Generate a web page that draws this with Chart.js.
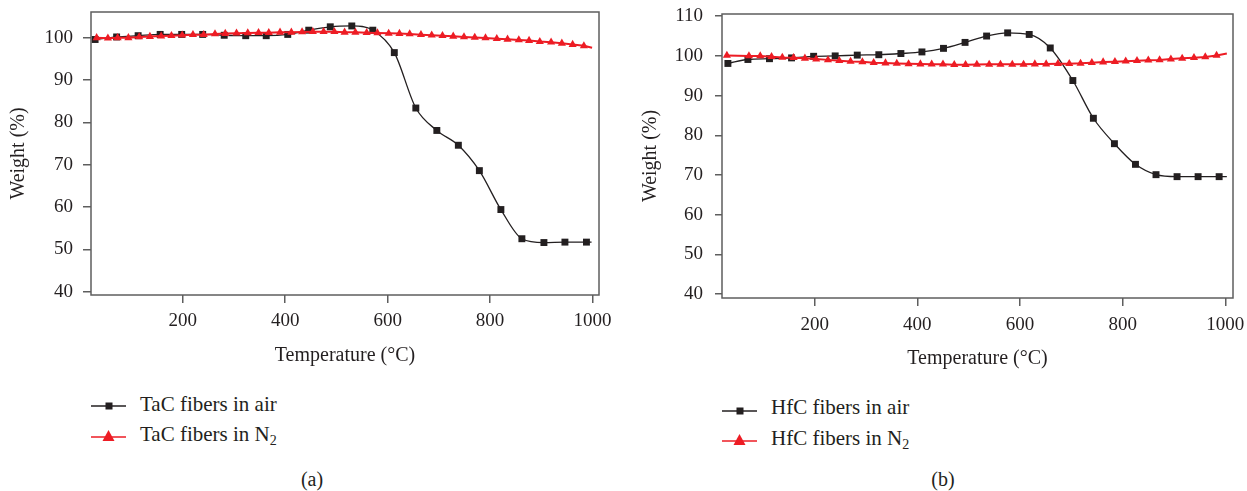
<!DOCTYPE html>
<html>
<head>
<meta charset="utf-8">
<script src="https://cdn.jsdelivr.net/npm/chart.js@4.4.1/dist/chart.umd.min.js"></script>
<style>
  html, body { margin: 0; padding: 0; background: #fff; }
  body { width: 1247px; height: 491px; position: relative; overflow: hidden;
         font-family: "Liberation Serif", "DejaVu Serif", serif; color: #231f20; }
  canvas { position: absolute; top: 0; }
  #cTaC { left: 0; }
  #cHfC { left: 620px; }
  .lg { position: absolute; font-size: 21px; line-height: 21px; white-space: nowrap; }
  .lg sub { font-size: 14px; vertical-align: -4px; line-height: 0; }
  .ic { position: absolute; }
  .cap { position: absolute; font-size: 20px; line-height: 20px; transform: translateX(-50%); }
</style>
</head>
<body>
<canvas id="cTaC" width="615" height="372"></canvas>
<canvas id="cHfC" width="627" height="372"></canvas>

<!-- legend (a) -->
<svg class="ic" style="left:91px;top:398px" width="35" height="16">
  <line x1="0" y1="8" x2="35" y2="8" stroke="#231f20" stroke-width="1.5"/>
  <rect x="14.5" y="4.5" width="7" height="7" fill="#231f20"/>
</svg>
<div class="lg" style="left:140px;top:394px">TaC fibers in air</div>
<svg class="ic" style="left:91px;top:427px" width="35" height="16">
  <line x1="0" y1="10" x2="35" y2="10" stroke="#ed1c24" stroke-width="1.5"/>
  <polygon points="17.5,3 23.5,14 11.5,14" fill="#ed1c24"/>
</svg>
<div class="lg" style="left:140px;top:424px">TaC fibers in N<sub>2</sub></div>
<div class="cap" style="left:312px;top:469px">(a)</div>

<!-- legend (b) -->
<svg class="ic" style="left:722px;top:403px" width="35" height="16">
  <line x1="0" y1="8" x2="35" y2="8" stroke="#231f20" stroke-width="1.5"/>
  <rect x="14.5" y="4.5" width="7" height="7" fill="#231f20"/>
</svg>
<div class="lg" style="left:771px;top:397px">HfC fibers in air</div>
<svg class="ic" style="left:722px;top:431px" width="35" height="16">
  <line x1="0" y1="10" x2="35" y2="10" stroke="#ed1c24" stroke-width="1.5"/>
  <polygon points="17.5,3 23.5,14 11.5,14" fill="#ed1c24"/>
</svg>
<div class="lg" style="left:771px;top:428px">HfC fibers in N<sub>2</sub></div>
<div class="cap" style="left:943px;top:469px">(b)</div>

<script>
// Thermogravimetric curves, temperature (°C) vs weight (%).
// The last entry of every series is where the recorded trace ends (no marker drawn there).

// (a) TaC fibers
const tacAirT = [29, 71, 113, 156, 198, 239, 281, 323, 363, 405, 446, 488, 530, 571, 613, 655, 696, 738, 779, 821, 862, 905, 946, 988, 998];
const tacAirW = [99.6, 100.2, 100.5, 100.8, 100.8, 100.8, 100.6, 100.5, 100.5, 100.8, 101.8, 102.6, 102.8, 101.8, 96.5, 83.4, 78.1, 74.6, 68.6, 59.4, 52.5, 51.6, 51.7, 51.7, 51.7];

const tacN2T = [32, 54, 73, 94, 115, 136, 158, 178, 199, 220, 241, 263, 283, 305, 327, 348, 368, 390, 412, 433, 454, 475, 496,
                516, 537, 559, 580, 602, 623, 643, 665, 686, 707, 728, 749, 770, 791, 813, 834, 856, 876, 897, 919, 940, 961, 983, 999];
const tacN2W = [100.0, 99.9, 100.0, 100.0, 100.2, 100.3, 100.4, 100.5, 100.6, 100.75, 100.75, 100.9, 101.0, 101.1, 101.15, 101.2, 101.2, 101.3, 101.3, 101.4, 101.45, 101.45, 101.45,
                101.3, 101.3, 101.2, 101.15, 101.05, 101.0, 100.9, 100.75, 100.6, 100.5, 100.35, 100.2, 100.1, 99.95, 99.8, 99.65, 99.5, 99.35, 99.1, 98.95, 98.7, 98.4, 98.1, 97.65];

// (b) HfC fibers
const hfcAirT = [31, 70, 112, 155, 198, 240, 283, 325, 368, 409, 451, 493, 535, 576, 618, 659, 703, 743, 784, 825, 865, 906, 947, 988, 1003];
const hfcAirW = [98.1, 99.1, 99.3, 99.5, 99.9, 100.0, 100.2, 100.3, 100.6, 101.0, 101.9, 103.4, 105.0, 105.8, 105.4, 102.0, 93.8, 84.3, 77.9, 72.7, 70.1, 69.6, 69.6, 69.6, 69.6];

const hfcN2T = [29, 72, 94, 116, 137, 159, 181, 203, 226, 248, 270, 293, 315, 338, 360, 383, 406, 428, 450, 472, 494, 516,
                540, 562, 585, 607, 629, 651, 674, 696, 718, 740, 762, 785, 806, 828, 850, 872, 894, 916, 939, 961, 983, 1003];
const hfcN2W = [100.1, 100.0, 100.0, 99.8, 99.6, 99.55, 99.4, 99.2, 99.0, 98.8, 98.6, 98.5, 98.3, 98.2, 98.1, 98.0, 97.95, 97.9, 97.9, 97.8, 97.8, 97.85,
                97.87, 97.87, 97.87, 97.87, 97.95, 97.95, 98.05, 98.05, 98.12, 98.3, 98.45, 98.55, 98.65, 98.8, 98.9, 99.0, 99.2, 99.38, 99.55, 99.75, 100.1, 100.6];

// Tick labels
const tempTicks = [200, 400, 600, 800, 1000];
const tacWeightTicks = [40, 50, 60, 70, 80, 90, 100];
const hfcWeightTicks = [40, 50, 60, 70, 80, 90, 100, 110];

const INK = '#231f20';
const RED = '#ed1c24';
const FRAME = '#5e5e5e';
const FONT = "'Liberation Serif', 'DejaVu Serif', serif";

const pts = (xs, ys) => xs.map((x, i) => ({ x, y: ys[i] }));
const hideLast = r => ctx => (ctx.dataIndex === ctx.dataset.data.length - 1 ? 0 : r);

function airSet(label, xs, ys) {
  return {
    label, data: pts(xs, ys),
    borderColor: INK, backgroundColor: INK, borderWidth: 1.3,
    cubicInterpolationMode: 'monotone',
    pointStyle: 'rect', pointRadius: hideLast(4.9), pointBorderWidth: 0,
    pointBackgroundColor: INK, order: 1
  };
}
function n2Set(label, xs, ys) {
  return {
    label, data: pts(xs, ys),
    borderColor: RED, backgroundColor: RED, borderWidth: 2, tension: 0,
    pointStyle: 'triangle', pointRadius: hideLast(4.7), pointBorderWidth: 0,
    pointBackgroundColor: RED, order: 0
  };
}

// Closed grey frame around the plotting area
const framePlugin = {
  id: 'frame',
  afterDatasetsDraw(chart) {
    const { ctx, chartArea: a } = chart;
    ctx.save();
    ctx.strokeStyle = FRAME;
    ctx.lineWidth = 1.5;
    ctx.strokeRect(a.left, a.top, a.right - a.left, a.bottom - a.top);
    ctx.restore();
  }
};

function makeChart(id, datasets, cfg) {
  return new Chart(document.getElementById(id), {
    type: 'line',
    data: { datasets },
    plugins: [framePlugin],
    options: {
      responsive: false, animation: false, devicePixelRatio: 1,
      layout: { padding: { top: cfg.top, right: cfg.right, left: 0, bottom: 0 } },
      plugins: { legend: { display: false }, tooltip: { enabled: false } },
      scales: {
        x: {
          type: 'linear', min: cfg.xMin, max: cfg.xMax,
          afterBuildTicks: s => { s.ticks = tempTicks.map(v => ({ value: v })); },
          afterFit: s => { s.height = cfg.xHeight; s.paddingLeft = 0; s.paddingRight = 0; },
          border: { display: false },
          grid: { display: true, drawOnChartArea: false, drawTicks: true, tickLength: 8, color: FRAME, lineWidth: 1.5 },
          ticks: { color: INK, padding: cfg.xPad, maxRotation: 0, callback: v => String(v),
                   font: { family: FONT, size: 19 } },
          title: { display: true, text: 'Temperature (°C)', color: INK, padding: { top: 0, bottom: cfg.xTitlePad },
                   font: { family: FONT, size: 20 } }
        },
        y: {
          type: 'linear', min: cfg.yMin, max: cfg.yMax,
          afterBuildTicks: s => { s.ticks = cfg.yTicks.map(v => ({ value: v })); },
          afterFit: s => { s.width = cfg.yWidth; s.paddingTop = 0; s.paddingBottom = 0; },
          border: { display: false },
          grid: { display: true, drawOnChartArea: false, drawTicks: true, tickLength: cfg.yTick, color: FRAME, lineWidth: 1.5 },
          ticks: { color: INK, padding: cfg.yPad, callback: v => String(v), font: { family: FONT, size: 19 } },
          title: { display: true, text: 'Weight (%)', color: INK, padding: { top: cfg.yTitlePad, bottom: 0 },
                   font: { family: FONT, size: 20 } }
        }
      }
    }
  });
}

makeChart('cTaC', [
  airSet('TaC fibers in air', tacAirT, tacAirW),
  n2Set('TaC fibers in N2', tacN2T, tacN2W)
], { top: 12, right: 16, xMin: 21, xMax: 1012.5, yMin: 39.2, yMax: 106.1, yTicks: tacWeightTicks,
     xHeight: 77, yWidth: 91, xPad: 7, xTitlePad: 4, yTick: 8, yPad: 10, yTitlePad: 7 });

makeChart('cHfC', [
  airSet('HfC fibers in air', hfcAirT, hfcAirW),
  n2Set('HfC fibers in N2', hfcN2T, hfcN2W)
], { top: 14, right: 14, xMin: 19.5, xMax: 1015, yMin: 39.05, yMax: 110.55, yTicks: hfcWeightTicks,
     xHeight: 74, yWidth: 102, xPad: 8, xTitlePad: 1, yTick: 7, yPad: 12, yTitlePad: 19 });
</script>
</body>
</html>
